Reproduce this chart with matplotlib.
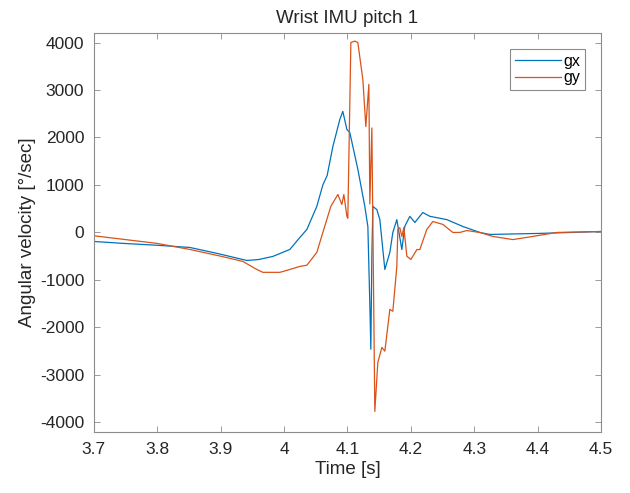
import matplotlib as mpl
mpl.use("Agg")
import matplotlib.pyplot as plt

plt.rcParams["font.family"] = ["Liberation Sans", "DejaVu Sans"]
plt.rcParams["font.size"] = 12.5
plt.rcParams["axes.unicode_minus"] = False

# gx (blue)
t_gx = [3.700, 3.746, 3.800, 3.8514, 3.894, 3.9413, 3.960, 3.9823, 4.0091, 4.025,
        4.0360, 4.0517, 4.0612, 4.068, 4.0770, 4.0880, 4.0927, 4.0991, 4.1038, 4.1164,
        4.1274, 4.1322, 4.1353, 4.1369, 4.1385, 4.1401, 4.1464, 4.1511, 4.1590, 4.1669,
        4.1716, 4.1779, 4.1858, 4.1905, 4.1984, 4.2063, 4.2189, 4.2300, 4.2568, 4.2820,
        4.3088, 4.3246, 4.4035, 4.5]
gx = [-190, -230, -270, -316, -440, -590, -570, -505, -358, -105,
      63, 550, 1000, 1200, 1810, 2380, 2550, 2170, 2100, 1330,
      550, 126, -1500, -2460, -500, 550, 480, 270, -780, -420,
      0, 270, -360, 130, 340, 210, 420, 340, 270, 126,
      0, -42, -20, 20]

# gy (orange)
t_gy = [3.700, 3.7994, 3.8514, 3.9000, 3.9350, 3.9571, 3.9666, 3.9934, 4.0091, 4.0250,
        4.0360, 4.0517, 4.0612, 4.0738, 4.0849, 4.0912, 4.0943, 4.0991, 4.1006, 4.1054,
        4.1117, 4.1164, 4.1243, 4.1290, 4.1338, 4.1353, 4.1385, 4.1432, 4.1479, 4.1543,
        4.1590, 4.1669, 4.1716, 4.1779, 4.1795, 4.1826, 4.1858, 4.1890, 4.1937, 4.2000,
        4.2095, 4.2142, 4.2252, 4.2347, 4.2505, 4.2662, 4.2773, 4.2883, 4.3088, 4.3293,
        4.3609, 4.3924, 4.4303, 4.5]
gy = [-70, -230, -358, -500, -610, -780, -840, -840, -780, -715,
      -690, -420, 0, 550, 800, 590, 800, 340, 300, 4000,
      4030, 4000, 3220, 2230, 3120, 600, 2200, -3770, -2740, -2420,
      -2500, -1620, -1660, -715, 63, 100, -84, 105, -500, -570,
      -360, -360, 63, 230, 170, 0, 0, 40, 0, -84,
      -150, -84, 0, 20]

fig = plt.figure(figsize=(6.3, 4.93), dpi=100)
ax = fig.add_axes([0.149, 0.124, 0.805, 0.809])

ax.plot(t_gx, gx, color="#0072BD", lw=0.9, label="gx")
ax.plot(t_gy, gy, color="#D95319", lw=0.9, label="gy")

ax.set_xlim(3.7, 4.5)
ax.set_ylim(-4200, 4200)
ax.set_xticks([3.7, 3.8, 3.9, 4.0, 4.1, 4.2, 4.3, 4.4, 4.5])
ax.set_xticklabels(["3.7", "3.8", "3.9", "4", "4.1", "4.2", "4.3", "4.4", "4.5"])
ax.set_yticks(range(-4000, 4001, 1000))

for s in ax.spines.values():
    s.set_color("#8c8c8c")
    s.set_linewidth(0.8)
ax.tick_params(direction="in", top=True, right=True, length=4, width=0.6,
               color="#8c8c8c", labelcolor="#262626", pad=7)

ax.set_title("Wrist IMU pitch 1", color="#262626", fontsize=13.5, pad=7)
ax.set_xlabel("Time [s]", color="#262626", fontsize=13.5, labelpad=3)
ax.set_ylabel("Angular velocity [°/sec]", color="#262626", fontsize=13.5, labelpad=3)

leg = ax.legend(loc="upper right", fancybox=False, framealpha=1, edgecolor="#8c8c8c",
                fontsize=11.5, handlelength=2.9, borderpad=0.3, labelspacing=0.1,
                handletextpad=0.15, borderaxespad=1.0)
leg.get_frame().set_linewidth(0.8)

fig.savefig("out.png", dpi=100)
